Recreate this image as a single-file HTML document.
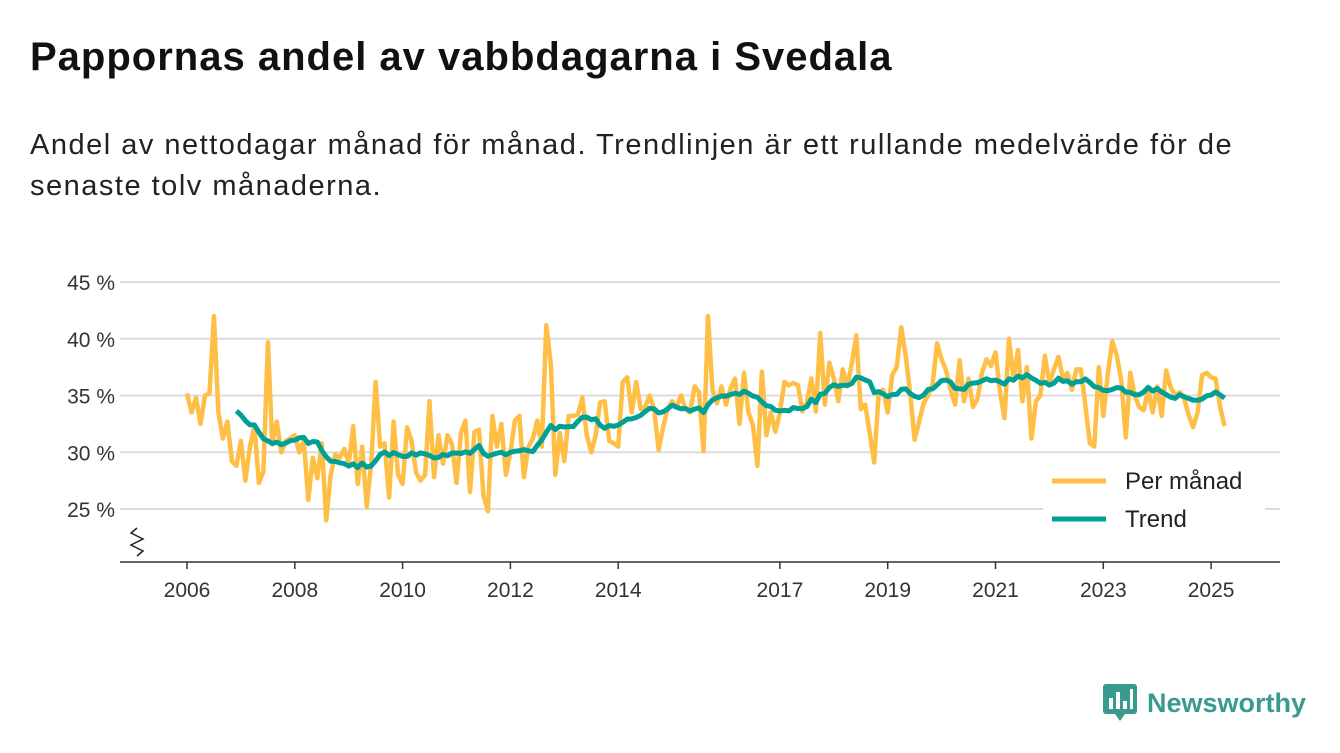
<!DOCTYPE html>
<html><head><meta charset="utf-8"><style>
body{margin:0;width:1340px;height:753px;background:#fff;font-family:"Liberation Sans","DejaVu Sans",sans-serif;overflow:hidden;position:relative}
h1{position:absolute;left:30px;top:35px;margin:0;font-size:40px;font-weight:bold;color:#111;letter-spacing:1px}
p{position:absolute;left:30px;top:125px;margin:0;font-size:29px;line-height:41px;color:#222;width:1245px;letter-spacing:1.5px}
</style></head><body>
<h1>Pappornas andel av vabbdagarna i Svedala</h1>
<p>Andel av nettodagar månad för månad. Trendlinjen är ett rullande medelvärde för de senaste tolv månaderna.</p>
<svg id="chart" width="1340" height="753" style="position:absolute;left:0;top:0"></svg>
<div style="position:absolute;left:1103px;top:684px;display:flex;align-items:center">
<svg width="34" height="38"><rect x="0" y="0" width="34" height="30" rx="3" fill="#3a9a8f"/><polygon points="12,30 22,30 17,37" fill="#3a9a8f"/><rect x="6" y="14" width="4" height="11" fill="#fff"/><rect x="13" y="8" width="4" height="17" fill="#fff"/><rect x="20" y="17" width="4" height="8" fill="#fff"/><rect x="27" y="5" width="3" height="20" fill="#fff"/></svg>
<span style="margin-left:10px;font-size:27px;font-weight:bold;color:#3a9a8f">Newsworthy</span></div>
<script>
const startYear = 2006;
const monthly = [
35.2,33.5,34.8,32.5,35,35.2,42,33.5,31.2,32.7,29.2,28.8,
31,27.5,30.5,32.3,27.3,28.3,39.7,30.7,32.7,30,31,31.2,
31.5,30,31,25.8,29.5,27.7,30.8,24,28,29.8,29.5,30.3,
29,32.3,27.2,30.5,25.2,29,36.2,30.5,30.8,26,32.7,28,
27.2,32.2,31,28.2,27.5,28,34.5,27.8,31.5,29,31.5,30.7,
27.3,31.7,32.8,26.5,31.8,32,26.2,24.8,33.2,30.5,32.5,28,
30,32.8,33.2,27.8,30.5,31.2,32.8,30.5,41.2,37.8,28,31.7,
29.2,33.2,33.2,33.3,34.8,31.5,30,31.5,34.4,34.5,31,30.8,
30.5,36.2,36.6,33.5,36.2,33.8,34,35,33.8,30.2,32.2,33.8,
34.5,34,35,33.8,33.5,35.8,35.3,30.1,42,35.5,34.3,35.8,
34.2,35.6,36.5,32.5,37,33.5,32.4,28.8,37.1,31.5,33.5,31.8,
33.5,36.2,35.9,36.1,35.9,33.6,34.4,36.5,33.6,40.5,34.2,37.9,
36.5,34.5,37.3,35.8,37.8,40.3,33.8,34.2,31.7,29.1,35.2,35.5,
33.5,36.8,37.5,41,38.5,35.2,31.1,32.7,34.3,35,36,39.6,
38.2,37.2,35.5,34.2,38.1,34.5,36.5,34,34.7,37,38.2,37.6,
38.8,35.3,33,40,36.5,39,34.5,37.5,31.2,34.5,35,38.5,
36,37.3,38.4,36.5,37,35.5,37.3,37.3,34.2,30.8,30.5,37.5,
33.2,36.9,39.8,38.5,36.3,31.3,37,35,34,33.7,35.5,33.5,
35.8,33.2,37.2,35.7,35,35.3,34.7,33.3,32.2,33.5,36.8,37,
36.6,36.5,34,32.3];
const yTicks = [25,30,35,40,45];
const xTickYears = [2006,2008,2010,2012,2014,2017,2019,2021,2023,2025];
const legendLabels = ["Per månad","Trend"];

const NS="http://www.w3.org/2000/svg", svg=document.getElementById('chart');
const x = t => 187 + (t - startYear) * 53.9;
const y = v => 509 - (v - 25) * 11.35;
function mk(tag, attrs, parent){const e=document.createElementNS(NS,tag);for(const k in attrs)e.setAttribute(k,attrs[k]);(parent||svg).appendChild(e);return e;}

yTicks.forEach(v=>{
  const g=mk('line',{x1:120,x2:1280,y1:y(v),y2:y(v),stroke:'#dcdcdc','stroke-width':2});
  
  
  const t=mk('text',{x:115,y:y(v)+8,'text-anchor':'end','font-size':21,fill:'#333','font-family':'Liberation Sans, sans-serif'});
  t.textContent=v+' %';
  
  
});
const ax=mk('line',{x1:120,x2:1280,y1:562,y2:562,stroke:'#333','stroke-width':1.5});


const zz=mk('polyline',{points:'137,528 131,533 143,539 131,545 143,551 137,556',fill:'none',stroke:'#222','stroke-width':1.5});


xTickYears.forEach(yr=>{
  const l=mk('line',{x1:x(yr),x2:x(yr),y1:562,y2:569,stroke:'#333','stroke-width':1.5});
  
  
  const t=mk('text',{x:x(yr),y:597,'text-anchor':'middle','font-size':21,fill:'#333','font-family':'Liberation Sans, sans-serif'});
  t.textContent=yr;
  
  
});
const mPts=monthly.map((v,i)=>x(startYear+i/12).toFixed(1)+','+y(v).toFixed(1)).join(' ');
const m=mk('polyline',{points:mPts,fill:'none',stroke:'#ffbf47','stroke-width':4.5,'stroke-linejoin':'round'});


const trend=[];
for(let i=11;i<monthly.length;i++){let s=0;for(let j=i-11;j<=i;j++)s+=monthly[j];trend.push([i,s/12]);}
const tr=mk('polyline',{points:trend.map(([i,v])=>x(startYear+i/12).toFixed(1)+','+y(v).toFixed(1)).join(' '),fill:'none',stroke:'#00a096','stroke-width':5,'stroke-linejoin':'round'});


const lb=mk('rect',{x:1043,y:462,width:222,height:78,fill:'#fff'});


['#ffbf47','#00a096'].forEach((c,k)=>{
  const ly=481+k*38;
  const l=mk('line',{x1:1052,x2:1106,y1:ly,y2:ly,stroke:c,'stroke-width':5});
  
  
  const t=mk('text',{x:1125,y:ly+8,'font-size':24,fill:'#222','font-family':'Liberation Sans, sans-serif'});
  t.textContent=legendLabels[k];
  
  
});
</script>
</body></html>
